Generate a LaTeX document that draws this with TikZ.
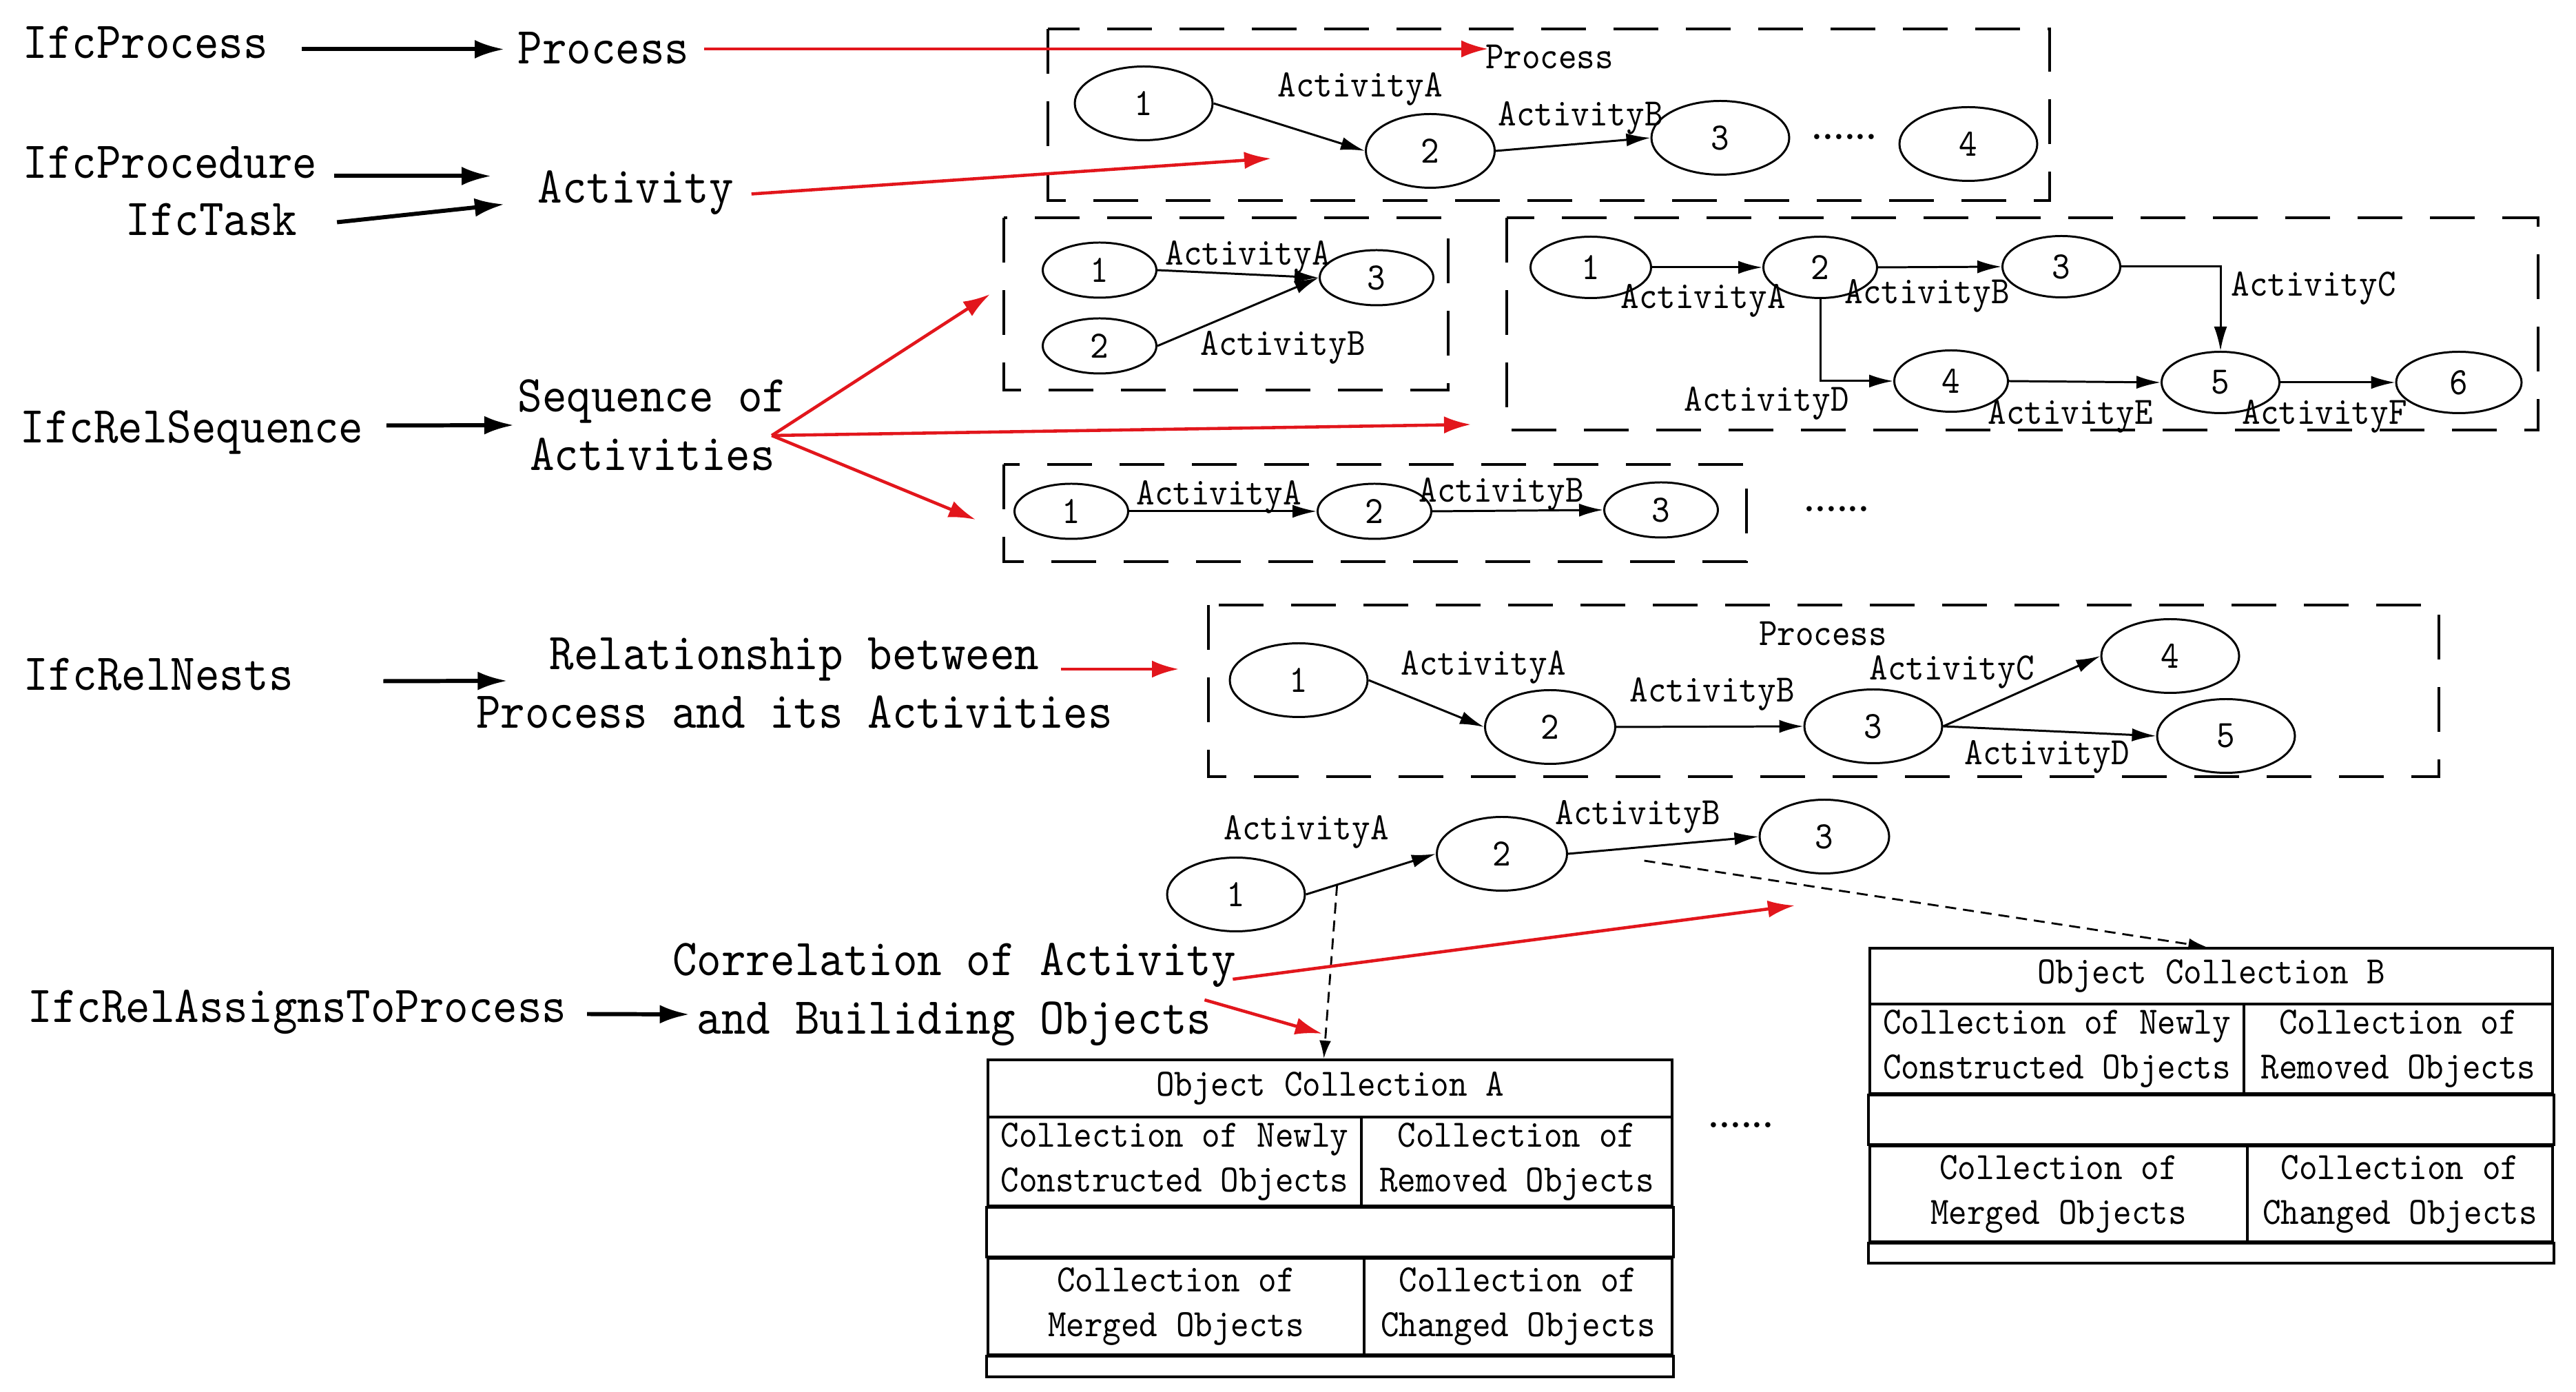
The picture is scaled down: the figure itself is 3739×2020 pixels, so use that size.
\documentclass[tikz,border=0pt]{standalone}
\usepackage{fontspec}
\setmainfont{lmmono10-regular}[Extension=.otf, FakeStretch=0.9]
\newfontfamily\dotfont{Liberation Serif}
\usepackage{tikz}
\usetikzlibrary{arrows.meta}
\usetikzlibrary{shapes.geometric}
\definecolor{hotred}{RGB}{226,22,28}
\tikzset{h/.style={font=\fontsize{21.4}{24.2}\selectfont, inner sep=0pt, text height=4.7mm, text depth=2mm}}
\tikzset{hm/.style={font=\fontsize{21.4}{24.2}\selectfont, inner sep=0pt, align=center}}
\tikzset{l/.style={font=\fontsize{16}{18.5}\selectfont, inner sep=0pt}}
\tikzset{dots/.style={font=\dotfont\fontsize{18}{18}\selectfont, inner sep=0pt}}
\tikzset{ev/.style={ellipse, draw, line width=0.85pt, inner sep=0pt, minimum width=20mm, minimum height=10.7mm, font=\fontsize{16}{16}\selectfont}}
\tikzset{es/.style={ev, minimum width=16.5mm, minimum height=8mm}}
\tikzset{grp/.style={line width=1pt, dash pattern=on 6.5mm off 4mm}}
\tikzset{blk/.style={line width=1.7pt, -{Latex[length=4.3mm,width=2.7mm]}}}
\tikzset{hot/.style={hotred, line width=1.3pt, -{Latex[length=3.9mm,width=2.5mm]}}}
\tikzset{act/.style={line width=0.85pt, -{Latex[length=3.5mm,width=1.9mm]}}}
\tikzset{lnk/.style={line width=0.8pt, dash pattern=on 1.6mm off 1mm, -{Latex[length=2.6mm,width=1.7mm]}}}
\tikzset{cell/.style={draw, line width=1.1pt, inner sep=0pt, align=center, font=\fontsize{16}{18.5}\selectfont}}

\begin{document}
\begin{tikzpicture}[x=0.1mm, y=-0.1mm]
\useasboundingbox (0,0) rectangle (3739,2020);

% IFC entities and what they stand for
\node[h, anchor=base west] (ifcproc) at (33,85) {IfcProcess};
\node[h, anchor=base west] (proc) at (751,93) {Process};
\node[h, anchor=base west] (ifcpcd) at (33,259) {IfcProcedure};
\node[h, anchor=base west] (ifctask) at (182,342) {IfcTask};
\node[h, anchor=base west] (actv) at (780,295) {Activity};
\node[h, anchor=base west] (ifcseq) at (29,643) {IfcRelSequence};
\node[hm] (seq) at (947,617) {Sequence of\\Activities};
\node[h, anchor=base west] (ifcnest) at (34,1002) {IfcRelNests};
\node[hm] (rel) at (1153,991) {Relationship between\\Process and its Activities};
\node[h, anchor=base west] (ifcasg) at (40,1484) {IfcRelAssignsToProcess};
\node[hm] (corr) at (1385,1443) {Correlation of Activity\\and Builiding Objects};

\coordinate (pe) at ([yshift=-1mm]ifcpcd.east);
\draw[blk, shorten <=4.8mm, shorten >=1.9mm] (ifcproc.east) -- (ifcproc.east -| proc.west);
\draw[blk, shorten <=2.4mm, shorten >=6.7mm] (pe) -- (pe -| actv.west);
\draw[blk] ([shift={(57,-6)}]ifctask.east) -- ([shift={(-48,15)}]actv.west);
\draw[blk] ([shift={(33,-12)}]ifcseq.east) -- ([shift={(-5,0)}]seq.west);
\draw[blk] ([shift={(130,0)}]ifcnest.east) -- ([shift={(46,-3)}]rel.west);
\draw[blk] ([shift={(29,1)}]ifcasg.east) -- ([shift={(25,29)}]corr.west);

% process
\draw[grp] (1521,42) rectangle (2975,291);
\node[l, anchor=base] (pp) at (2249,100) {Process};
\node[ev] (p1) at (1660,150) {1};
\node[ev, minimum width=18.7mm] (p2) at (2076,219) {2};
\node[ev] (p3) at (2497,200) {3};
\node[ev] (p4) at (2857,209) {4};
\node[dots] (pd) at (2677,199) {......};
\draw[act] (p1.east) -- (p2.west);
\draw[act] (p2.east) -- (p3.west);
\node[l, anchor=base] (pa) at (1974,141) {ActivityA};
\node[l, anchor=base] (pb) at (2294,183) {ActivityB};

\coordinate (t1) at (2160,71);
\coordinate (t2) at (1845,230);
\draw[hot, shorten <=2.1mm] (proc.east |- t1) -- (t1);
\draw[hot] ([shift={(25,0)}]actv.east) -- (t2);

% sequences
\draw[grp] (1457,316) rectangle (2102,566);
\node[es] (a1) at (1596,392) {1};
\node[es] (a2) at (1596,502) {2};
\node[es] (a3) at (1998,403) {3};
\draw[act] (a1.east) -- (a3.west);
\draw[act] (a2.east) -- (a3.west);
\node[l, anchor=base] (aa) at (1811,385) {ActivityA};
\node[l, anchor=base] (ab) at (1862,516) {ActivityB};

\draw[grp] (2187,316) rectangle (3684,624);
\node[es, minimum width=17.5mm, minimum height=8.9mm] (c1) at (2309,388) {1};
\node[es, minimum width=16.5mm, minimum height=8.9mm] (c2) at (2642,388) {2};
\node[es, minimum width=17.1mm, minimum height=8.9mm] (c3) at (2992,387) {3};
\node[es, minimum width=16.5mm, minimum height=8.9mm] (c4) at (2832,553) {4};
\node[es, minimum width=17.1mm, minimum height=8.9mm] (c5) at (3223,555) {5};
\node[es, minimum width=18.2mm, minimum height=8.9mm] (c6) at (3569,555) {6};
\draw[act] (c1.east) -- (c2.west);
\draw[act] (c2.east) -- (c3.west);
\draw[act] (c3.east) -| (c5.north);
\draw[act] (c2.south) |- (c4.west);
\draw[act] (c4.east) -- (c5.west);
\draw[act] (c5.east) -- (c6.west);
\node[l, anchor=base] (ca) at (2472,448) {ActivityA};
\node[l, anchor=base] (cb) at (2797,441) {ActivityB};
\node[l, anchor=base] (cc) at (3358,430) {ActivityC};
\node[l, anchor=base] (cd) at (2564,597) {ActivityD};
\node[l, anchor=base] (ce) at (3005,616) {ActivityE};
\node[l, anchor=base] (cf) at (3374,616) {ActivityF};

\draw[grp] (1457,674) rectangle (2535,815);
\node[es] (q1) at (1555,742) {1};
\node[es] (q2) at (1995,742) {2};
\node[es] (q3) at (2411,740) {3};
\draw[act] (q1.east) -- (q2.west);
\draw[act] (q2.east) -- (q3.west);
\node[l, anchor=base] (qa) at (1769,733) {ActivityA};
\node[l, anchor=base] (qb) at (2179,729) {ActivityB};
\node[dots] (qd) at (2666,739) {......};

\coordinate (sq) at ([shift={(-23,15)}]seq.east);
\coordinate (t3a) at (1437,427);
\coordinate (t3b) at (2135,616);
\coordinate (t3c) at (1416,754);
\draw[hot] (sq) -- (t3a);
\draw[hot] (sq) -- (t3b);
\draw[hot] (sq) -- (t3c);

% nesting
\draw[grp] (1754,878) rectangle (3540,1127);
\node[l, anchor=base] (np) at (2646,937) {Process};
\node[ev] (n1) at (1885,987) {1};
\node[ev, minimum width=18.9mm] (n2) at (2250,1055) {2};
\node[ev] (n3) at (2719,1054) {3};
\node[ev] (n4) at (3150,952) {4};
\node[ev] (n5) at (3231,1068) {5};
\draw[act] (n1.east) -- (n2.west);
\draw[act] (n2.east) -- (n3.west);
\draw[act] (n3.east) -- (n4.west);
\draw[act] (n3.east) -- (n5.west);
\node[l, anchor=base] (na) at (2153,980) {ActivityA};
\node[l, anchor=base] (nb) at (2485,1019) {ActivityB};
\node[l, anchor=base] (nc) at (2833,987) {ActivityC};
\node[l, anchor=base] (nd) at (2971,1110) {ActivityD};

\coordinate (t4) at (1711,971);
\draw[hot] ([shift={(-76,-20)}]rel.east) -- (t4);

% assignment of building objects
\node[ev] (o1) at (1794,1298) {1};
\node[ev, minimum width=18.9mm] (o2) at (2180,1239) {2};
\node[ev, minimum width=18.8mm] (o3) at (2648,1214) {3};
\draw[act] (o1.east) -- coordinate[pos=0.24] (ea) (o2.west);
\draw[act] (o2.east) -- coordinate[pos=0.4] (eb) (o3.west);
\node[l, anchor=base] (oa) at (1896,1219) {ActivityA};
\node[l, anchor=base] (ob) at (2377,1197) {ActivityB};

\node[cell, minimum width=99.3mm, minimum height=8.3mm] (oca) at (1930.5,1579.5) {Object Collection A};
\node[cell, minimum width=54.2mm, minimum height=12.9mm] (nca) at (1705,1685.5) {Collection of Newly\\Constructed Objects};
\node[cell, minimum width=45.1mm, minimum height=12.9mm] (rca) at (2201.5,1685.5) {Collection of\\Removed Objects};
\node[cell, minimum width=54.6mm, minimum height=14mm] (mca) at (1707,1896) {Collection of\\Merged Objects};
\node[cell, minimum width=44.7mm, minimum height=14mm] (cca) at (2203.5,1896) {Collection of\\Changed Objects};
\draw[line width=1.1pt] (nca.south west) rectangle (cca.north east);
\draw[line width=1.1pt] (mca.south west) rectangle ([yshift=-3mm]cca.south east);

\node[cell, minimum width=99.1mm, minimum height=8.1mm] (ocb) at (3209.5,1416.5) {Object Collection B};
\node[cell, minimum width=54.3mm, minimum height=13mm] (ncb) at (2985.5,1522) {Collection of Newly\\Constructed Objects};
\node[cell, minimum width=44.8mm, minimum height=13mm] (rcb) at (3481,1522) {Collection of\\Removed Objects};
\node[cell, minimum width=54.8mm, minimum height=13.9mm] (mcb) at (2988,1732.5) {Collection of\\Merged Objects};
\node[cell, minimum width=44.3mm, minimum height=13.9mm] (ccb) at (3483.5,1732.5) {Collection of\\Changed Objects};
\draw[line width=1.1pt] (ncb.south west) rectangle (ccb.north east);
\draw[line width=1.1pt] (mcb.south west) rectangle ([yshift=-2.9mm]ccb.south east);

\node[dots] (od) at (2527,1633) {......};

\draw[lnk] (ea) -- ([xshift=-0.9mm]oca.north);
\draw[lnk] ([yshift=-2mm]eb) -- ([xshift=-0.7mm]ocb.north);

\coordinate (t5) at (2605,1314);
\coordinate (t6) at (1919,1500);
\draw[hot] ([shift={(-5,-22)}]corr.east) -- (t5);
\draw[hot] ([shift={(-46,8)}]corr.east) -- (t6);
\end{tikzpicture}
\end{document}
